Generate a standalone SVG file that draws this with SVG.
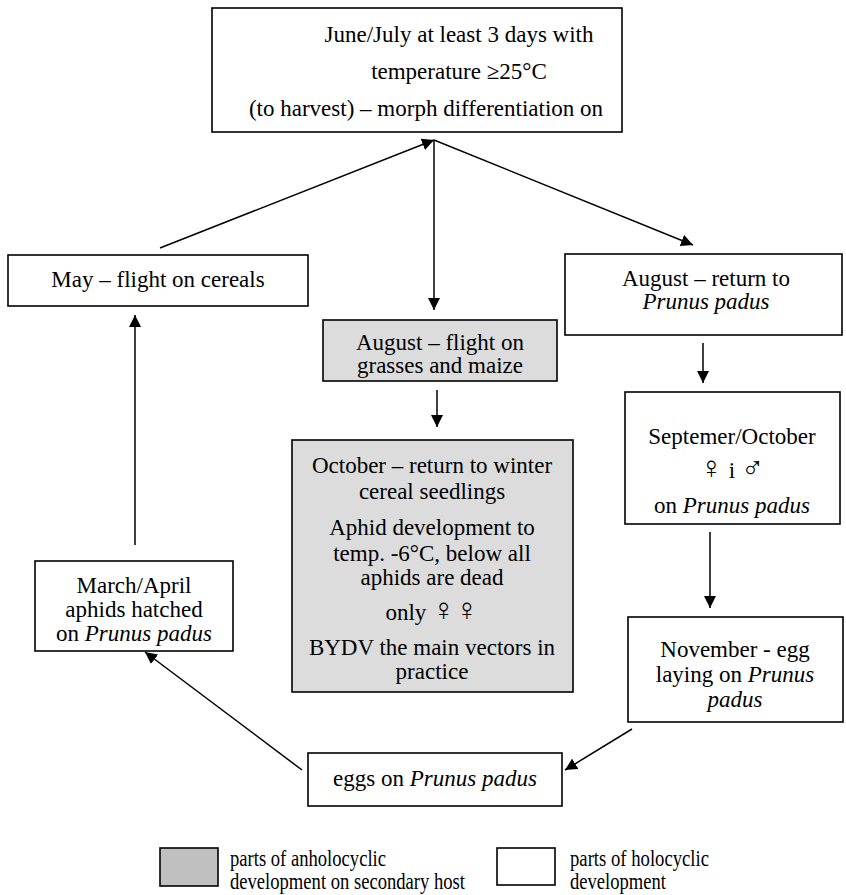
<svg xmlns="http://www.w3.org/2000/svg" width="846" height="895" viewBox="0 0 846 895">
<defs>
<marker id="ah" viewBox="0 0 12 12" refX="12" refY="6" markerWidth="12" markerHeight="12" markerUnits="userSpaceOnUse" orient="auto"><path d="M0,0 L12,6 L0,12 z" fill="#000"/></marker>
</defs>
<style>
.box{fill:#fff;stroke:#000;stroke-width:1.6}
.gray{fill:#dcdcdc;stroke:#000;stroke-width:1.6}
.lg{fill:#c0c0c0;stroke:#000;stroke-width:1.6}
text{font-family:"Liberation Serif","Times New Roman","DejaVu Serif",serif;font-size:23px;fill:#000;text-anchor:middle}
.i{font-style:italic}
.st{text-anchor:start}
.sym{font-family:"DejaVu Sans",sans-serif;font-size:31px;font-weight:200}
.con line{stroke:#000;stroke-width:1.5;fill:none}
</style>
<rect width="846" height="895" fill="#fff"/>
<g class="con">
<line x1="160" y1="248" x2="434" y2="140" marker-end="url(#ah)"/>
<line x1="434" y1="140" x2="434" y2="310" marker-end="url(#ah)"/>
<line x1="434" y1="140" x2="693" y2="245" marker-end="url(#ah)"/>
<line x1="703" y1="343" x2="703" y2="383" marker-end="url(#ah)"/>
<line x1="710" y1="532" x2="710" y2="608" marker-end="url(#ah)"/>
<line x1="632" y1="729" x2="565" y2="770" marker-end="url(#ah)"/>
<line x1="302" y1="770" x2="145" y2="652" marker-end="url(#ah)"/>
<line x1="135" y1="545" x2="135" y2="315" marker-end="url(#ah)"/>
<line x1="437" y1="390" x2="437" y2="427" marker-end="url(#ah)"/>
</g>
<g id="n-top">
<rect class="box" x="212" y="8" width="410" height="124"/>
<text x="459" y="42">June/July at least 3 days with</text>
<text x="459" y="79">temperature ≥25°C</text>
<text x="426" y="116">(to harvest) – morph differentiation on</text>
</g>
<g id="n-may">
<rect class="box" x="8" y="255" width="300" height="51"/>
<text x="158" y="287">May – flight on cereals</text>
</g>
<g id="n-aug-return">
<rect class="box" x="565" y="254" width="277" height="81"/>
<text x="706" y="286">August – return to</text>
<text x="706" y="309" class="i">Prunus padus</text>
</g>
<g id="n-aug-flight">
<rect class="gray" x="323" y="320" width="234" height="61"/>
<text x="440" y="350">August – flight on</text>
<text x="440" y="373">grasses and maize</text>
</g>
<g id="n-october">
<rect class="gray" x="292" y="440" width="281" height="252"/>
<text x="432" y="473">October – return to winter</text>
<text x="432" y="499">cereal seedlings</text>
<text x="432" y="535">Aphid development to</text>
<text x="432" y="561">temp. -6°C, below all</text>
<text x="432" y="585">aphids are dead</text>
<text x="432" y="620">only <tspan class="sym">♀♀</tspan></text>
<text x="432" y="655">BYDV the main vectors in</text>
<text x="432" y="679">practice</text>
</g>
<g id="n-sept">
<rect class="box" x="625" y="392" width="215" height="132"/>
<text x="732" y="444">Septemer/October</text>
<text x="732" y="478"><tspan class="sym">♀</tspan> i <tspan class="sym">♂</tspan></text>
<text x="732" y="513">on <tspan class="i">Prunus padus</tspan></text>
</g>
<g id="n-nov">
<rect class="box" x="628" y="617" width="215" height="105"/>
<text x="735" y="657">November - egg</text>
<text x="735" y="682">laying on <tspan class="i">Prunus</tspan></text>
<text x="735" y="707" class="i">padus</text>
</g>
<g id="n-eggs">
<rect class="box" x="308" y="753" width="254" height="53"/>
<text x="435" y="786">eggs on <tspan class="i">Prunus padus</tspan></text>
</g>
<g id="n-march">
<rect class="box" x="35" y="561" width="198" height="90"/>
<text x="134" y="593">March/April</text>
<text x="134" y="617">aphids hatched</text>
<text x="134" y="641">on <tspan class="i">Prunus padus</tspan></text>
</g>
<g id="legend">
<rect class="lg" x="160" y="848" width="58" height="38"/>
<text class="st" x="230" y="866" textLength="156" lengthAdjust="spacingAndGlyphs">parts of anholocyclic</text>
<text class="st" x="230" y="889" textLength="235" lengthAdjust="spacingAndGlyphs">development on secondary host</text>
<rect class="box" x="497" y="848" width="58" height="37"/>
<text class="st" x="570" y="866" textLength="139" lengthAdjust="spacingAndGlyphs">parts of holocyclic</text>
<text class="st" x="570" y="889" textLength="96" lengthAdjust="spacingAndGlyphs">development</text>
</g>
</svg>
